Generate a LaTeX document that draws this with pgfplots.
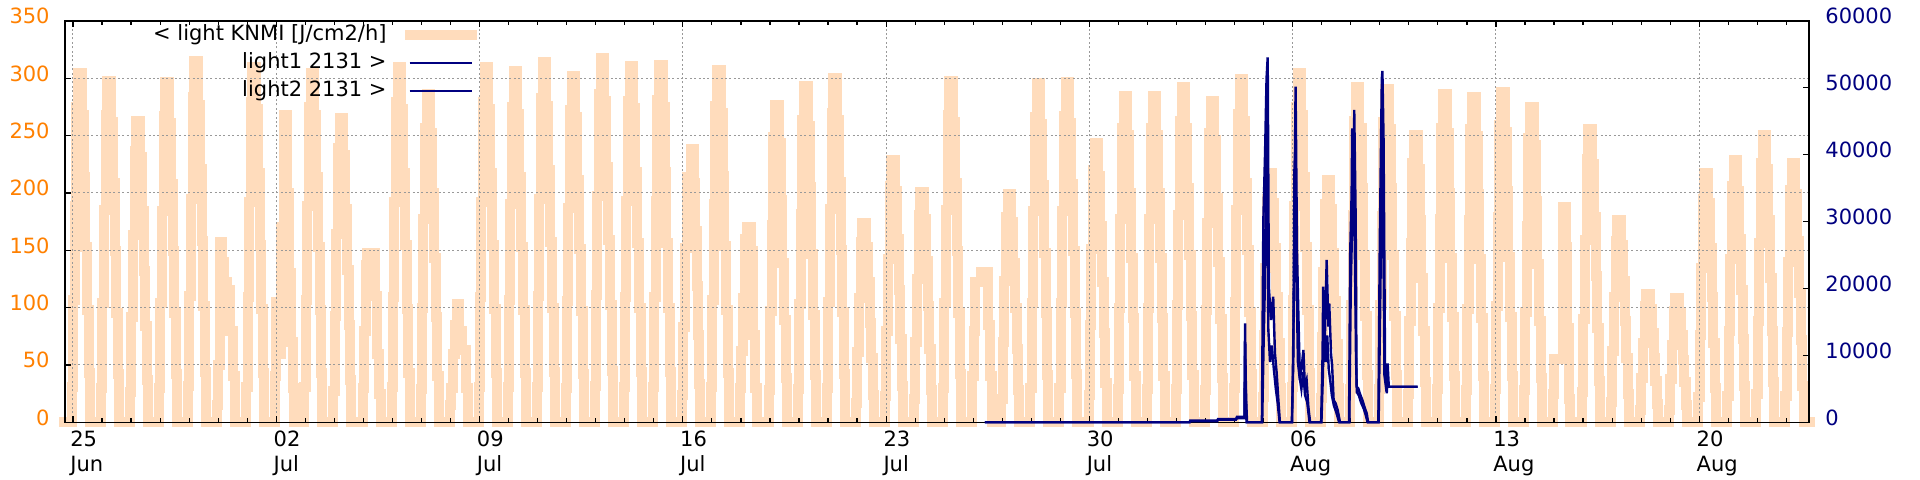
\documentclass[border=0pt]{standalone}
\usepackage{fontspec}
\setmainfont{DejaVu Sans}
\usepackage{pgfplots}
\pgfplotsset{compat=1.18}
\definecolor{peach}{RGB}{255,220,188}
\definecolor{tickorange}{RGB}{255,128,0}
\definecolor{navy}{RGB}{0,0,128}
\newcommand{\chartfont}{\fontsize{10.5}{12.5}\selectfont}
\begin{document}
\begin{tikzpicture}
\begin{axis}[
  name=main,
  width=872pt, height=200.65pt, scale only axis,
  clip=false, axis on top,
  font=\chartfont,
  xmin=-0.275, xmax=59.78, ymin=0, ymax=350,
  xtick={0,7,...,56},
  xticklabels={{25\\Jun},{02\\Jul},{09\\Jul},{16\\Jul},{23\\Jul},{30\\Jul},{06\\Aug},{13\\Aug},{20\\Aug}},
  minor xtick={1,2,...,59},
  ytick={0,50,...,350}, ytick pos=left,
  tick align=inside, major tick length=3pt, minor tick length=2pt,
  xmajorgrids, ymajorgrids,
  major grid style={draw=black!40, dash pattern=on 1pt off 1.2pt, line width=0.5pt},
  axis line style={line width=0.6pt},
  tick style={line width=0.6pt, black},
  /pgf/number format/assume math mode=true,
  yticklabel style={text=tickorange, anchor=east, inner sep=0pt, xshift=-7.5pt, yshift=2.4pt},
  xticklabel style={align=left, anchor=north west, inner sep=0pt, xshift=-1.5pt, yshift=-3.9pt},
]
\addplot[const plot, draw=peach, line width=5pt, line cap=rect, line join=miter] coordinates {
(-0.30,0)
(-0.03,31) (0.01,107) (0.06,189) (0.12,275) (0.18,305) (0.30,268) (0.37,214) (0.43,153) (0.49,98) (0.55,43) (0.59,0)
(0.97,30) (1.01,104) (1.06,185) (1.12,268) (1.18,298) (1.30,262) (1.37,209) (1.43,149) (1.49,95) (1.55,42) (1.59,0)
(1.97,26) (2.01,92) (2.06,163) (2.12,237) (2.18,263) (2.30,231) (2.37,184) (2.43,132) (2.49,84) (2.55,37) (2.59,0)
(2.97,30) (3.01,104) (3.06,184) (3.12,267) (3.18,297) (3.30,261) (3.37,208) (3.43,149) (3.49,95) (3.55,42) (3.59,0)
(3.97,32) (4.01,110) (4.06,195) (4.12,284) (4.18,315) (4.30,277) (4.37,221) (4.43,158) (4.49,101) (4.55,44) (4.59,0)
(4.95,15) (5.00,50) (5.06,157) (5.13,140) (5.20,122) (5.32,115) (5.41,80) (5.50,40) (5.57,0)
(5.97,31) (6.01,109) (6.06,192) (6.12,279) (6.18,310) (6.30,273) (6.37,217) (6.43,155) (6.49,99) (6.55,43) (6.59,0)
(6.95,40) (7.00,105) (7.08,60) (7.15,170) (7.26,268) (7.38,200) (7.45,130) (7.51,70) (7.56,30) (7.60,0)
(7.97,31) (8.01,107) (8.06,189) (8.12,275) (8.18,305) (8.30,268) (8.37,214) (8.43,153) (8.49,98) (8.55,43) (8.59,0)
(8.97,27) (9.01,93) (9.06,164) (9.12,239) (9.18,265) (9.30,233) (9.37,186) (9.43,133) (9.49,85) (9.55,37) (9.59,0)
(9.97,30) (10.01,80) (10.08,137) (10.14,148) (10.40,110) (10.48,60) (10.55,25) (10.59,0)
(10.97,31) (11.01,109) (11.06,192) (11.12,279) (11.18,310) (11.30,273) (11.37,217) (11.43,155) (11.49,99) (11.55,43) (11.59,0)
(11.97,29) (12.01,100) (12.06,177) (12.12,257) (12.18,286) (12.30,252) (12.37,200) (12.43,143) (12.49,92) (12.55,40) (12.59,0)
(12.97,15) (13.01,30) (13.08,60) (13.15,85) (13.21,103) (13.30,80) (13.40,63) (13.55,30) (13.60,0)
(13.97,31) (14.01,109) (14.06,192) (14.12,279) (14.18,310) (14.30,273) (14.37,217) (14.43,155) (14.49,99) (14.55,43) (14.59,0)
(14.97,31) (15.01,107) (15.06,190) (15.12,275) (15.18,306) (15.30,269) (15.37,214) (15.43,153) (15.49,98) (15.55,43) (15.59,0)
(15.97,31) (16.01,110) (16.06,195) (16.12,283) (16.18,314) (16.30,276) (16.37,220) (16.43,157) (16.49,100) (16.55,44) (16.59,0)
(16.97,30) (17.01,106) (17.06,187) (17.12,272) (17.18,302) (17.30,266) (17.37,211) (17.43,151) (17.49,97) (17.55,42) (17.59,0)
(17.97,32) (18.01,111) (18.06,197) (18.12,286) (18.18,318) (18.30,280) (18.37,223) (18.43,159) (18.49,102) (18.55,45) (18.59,0)
(18.97,31) (19.01,109) (19.06,193) (19.12,280) (19.18,311) (19.30,274) (19.37,218) (19.43,156) (19.49,100) (19.55,44) (19.59,0)
(19.97,31) (20.01,109) (20.06,193) (20.12,281) (20.18,312) (20.30,275) (20.37,218) (20.43,156) (20.49,100) (20.55,44) (20.59,0)
(20.97,24) (21.01,83) (21.06,152) (21.14,214) (21.28,238) (21.38,209) (21.43,167) (21.48,119) (21.52,76) (21.56,33) (21.60,0)
(21.97,31) (22.01,107) (22.06,190) (22.12,276) (22.18,307) (22.30,270) (22.37,215) (22.43,154) (22.49,98) (22.55,43) (22.59,0)
(22.97,30) (23.01,62) (23.08,108) (23.15,160) (23.22,170) (23.35,149) (23.41,76) (23.50,30) (23.57,0)
(23.97,28) (24.01,97) (24.06,172) (24.12,249) (24.18,277) (24.30,244) (24.37,194) (24.43,139) (24.49,89) (24.55,39) (24.59,0)
(24.97,29) (25.01,103) (25.06,182) (25.12,264) (25.18,293) (25.30,258) (25.37,205) (25.43,147) (25.49,94) (25.55,41) (25.59,0)
(25.97,30) (26.01,105) (26.06,186) (26.12,270) (26.18,300) (26.30,264) (26.37,210) (26.43,150) (26.49,96) (26.55,42) (26.59,0)
(26.97,17) (27.01,61) (27.06,108) (27.12,157) (27.18,174) (27.30,153) (27.37,122) (27.43,87) (27.49,56) (27.55,24) (27.59,0)
(27.97,23) (28.01,80) (28.06,142) (28.12,206) (28.18,229) (28.30,202) (28.37,160) (28.43,115) (28.49,73) (28.55,32) (28.59,0)
(28.97,20) (29.01,70) (29.06,125) (29.12,181) (29.18,201) (29.30,177) (29.37,141) (29.43,101) (29.49,64) (29.55,28) (29.59,0)
(29.97,30) (30.01,104) (30.06,185) (30.12,268) (30.18,298) (30.30,262) (30.37,209) (30.43,149) (30.49,95) (30.55,42) (30.59,0)
(30.97,40) (31.01,80) (31.06,122) (31.27,131) (31.50,85) (31.58,40) (31.64,0)
(31.97,20) (32.01,70) (32.06,123) (32.12,179) (32.18,199) (32.30,175) (32.37,139) (32.43,100) (32.49,64) (32.55,28) (32.59,0)
(32.97,30) (33.01,104) (33.06,184) (33.12,266) (33.18,296) (33.30,260) (33.37,207) (33.43,148) (33.49,95) (33.55,41) (33.59,0)
(33.97,30) (34.01,104) (34.06,184) (34.12,267) (34.18,297) (34.30,261) (34.37,208) (34.43,149) (34.49,95) (34.55,42) (34.59,0)
(34.97,24) (35.01,85) (35.06,151) (35.12,220) (35.18,244) (35.30,215) (35.37,171) (35.43,122) (35.49,78) (35.55,34) (35.59,0)
(35.97,29) (36.01,100) (36.06,177) (36.12,257) (36.18,285) (36.30,251) (36.37,200) (36.43,143) (36.49,91) (36.55,40) (36.59,0)
(36.97,29) (37.01,100) (37.06,177) (37.12,257) (37.18,285) (37.30,251) (37.37,200) (37.43,143) (37.49,91) (37.55,40) (37.59,0)
(37.97,29) (38.01,102) (38.06,181) (38.12,263) (38.18,292) (38.30,257) (38.37,204) (38.43,146) (38.49,93) (38.55,41) (38.59,0)
(38.97,28) (39.01,98) (39.06,174) (39.12,252) (39.18,280) (39.30,246) (39.37,196) (39.43,140) (39.49,90) (39.55,39) (39.59,0)
(39.97,30) (40.01,105) (40.06,185) (40.12,269) (40.18,299) (40.30,263) (40.37,209) (40.43,150) (40.49,96) (40.55,42) (40.59,0)
(40.97,22) (41.01,76) (41.06,135) (41.12,195) (41.18,217) (41.30,191) (41.37,152) (41.43,109) (41.49,69) (41.55,30) (41.59,0)
(41.97,31) (42.01,107) (42.06,189) (42.12,275) (42.18,305) (42.30,268) (42.37,214) (42.43,153) (42.49,98) (42.55,43) (42.59,0)
(42.97,21) (43.01,74) (43.06,131) (43.12,190) (43.18,211) (43.30,186) (43.37,148) (43.43,106) (43.49,68) (43.55,30) (43.59,0)
(43.97,29) (44.01,102) (44.06,181) (44.12,263) (44.18,292) (44.30,257) (44.37,204) (44.43,146) (44.49,93) (44.55,41) (44.59,0)
(44.97,29) (45.01,102) (45.06,180) (45.12,262) (45.18,291) (45.30,256) (45.37,204) (45.43,146) (45.49,93) (45.55,41) (45.59,0)
(45.97,25) (46.01,88) (46.06,156) (46.12,226) (46.18,251) (46.30,221) (46.37,176) (46.43,126) (46.49,80) (46.55,35) (46.59,0)
(46.97,29) (47.01,100) (47.06,177) (47.12,257) (47.18,286) (47.30,252) (47.37,200) (47.43,143) (47.49,92) (47.55,40) (47.59,0)
(47.97,28) (48.01,99) (48.06,176) (48.12,256) (48.18,284) (48.30,250) (48.37,199) (48.43,142) (48.49,91) (48.55,40) (48.59,0)
(48.97,29) (49.01,101) (49.06,179) (49.12,259) (49.18,288) (49.30,253) (49.37,202) (49.43,144) (49.49,92) (49.55,40) (49.59,0)
(49.97,28) (50.01,96) (50.06,171) (50.12,248) (50.18,275) (50.30,242) (50.37,193) (50.43,138) (50.49,88) (50.55,39) (50.59,0)
(50.95,25) (50.99,55) (51.32,188) (51.41,153) (51.46,82) (51.51,20) (51.56,0)
(51.97,26) (52.01,90) (52.06,159) (52.12,230) (52.18,256) (52.30,225) (52.37,179) (52.43,128) (52.49,82) (52.55,36) (52.59,0)
(52.97,18) (53.01,62) (53.06,109) (53.12,158) (53.18,176) (53.30,155) (53.37,123) (53.43,88) (53.49,56) (53.55,25) (53.59,0)
(53.97,11) (54.01,39) (54.06,69) (54.12,101) (54.18,112) (54.30,99) (54.37,78) (54.43,56) (54.49,36) (54.55,16) (54.59,0)
(54.97,11) (55.01,38) (55.06,67) (55.12,97) (55.18,108) (55.30,95) (55.37,76) (55.43,54) (55.49,35) (55.55,15) (55.59,0)
(55.97,22) (56.01,76) (56.06,135) (56.12,195) (56.18,217) (56.30,191) (56.37,152) (56.43,109) (56.49,69) (56.55,30) (56.59,0)
(56.97,23) (57.01,80) (57.06,142) (57.12,206) (57.18,229) (57.30,202) (57.37,160) (57.43,115) (57.49,73) (57.55,32) (57.59,0)
(57.97,25) (58.01,88) (58.06,156) (58.12,226) (58.18,251) (58.30,221) (58.37,176) (58.43,126) (58.49,80) (58.55,35) (58.59,0)
(58.97,23) (59.01,79) (59.06,140) (59.12,203) (59.18,226) (59.30,199) (59.37,158) (59.43,113) (59.49,72) (59.55,32) (59.59,0)
(59.80,0)
};
\end{axis}
\begin{axis}[
  width=872pt, height=200.65pt, scale only axis,
  clip=false,
  font=\chartfont,
  xmin=-0.275, xmax=59.78, ymin=0, ymax=60000,
  axis x line=none, axis y line*=right,
  ytick={0,10000,...,60000},
  tick align=inside, major tick length=3pt,
  axis line style={line width=0.6pt},
  tick style={line width=0.6pt, black},
  scaled y ticks=false,
  /pgf/number format/1000 sep={},
  /pgf/number format/assume math mode=true,
  yticklabel style={text=navy, anchor=west, inner sep=0pt, xshift=8pt, yshift=2.4pt},
  legend cell align=right, legend plot pos=right,
  legend image code/.code={\draw[#1] (0pt,0pt) -- (31pt,0pt);},
  legend style={draw=none, fill=none, at={(0.2362,0.994)}, anchor=north east,
    inner sep=0pt, row sep=3pt, column sep=8.5pt,
    nodes={inner sep=0.5pt, text height=7.7pt, text depth=2.3pt, font=\chartfont}},
]
\addlegendimage{draw=peach, line width=5pt, line cap=rect}
\addlegendentry{< light KNMI [J/cm2/h]}
\addplot[draw=navy, line width=1.2pt] coordinates {
(31.40,0) (38.45,0) (38.47,150) (39.40,150) (39.43,400) (40.05,400) (40.08,600) (40.34,600) (40.36,14800) (40.38,7400) (40.40,3000) (40.43,0)
(40.94,0) (40.99,30250) (41.05,40460) (41.10,51430) (41.14,54570) (41.18,20280) (41.25,15300) (41.33,18780) (41.39,10300) (41.45,7330) (41.50,3830) (41.56,0)
(41.97,0) (42.02,8800) (42.06,37720) (42.08,40700) (42.10,50180) (42.15,25270) (42.19,17290) (42.25,6320) (42.31,8310) (42.37,10810) (42.42,5320) (42.48,6320) (42.54,2330) (42.60,0)
(42.98,0) (43.03,10300) (43.05,20280) (43.11,12800) (43.17,24270) (43.23,14300) (43.26,17780) (43.32,10300) (43.36,8300) (43.41,3330) (43.48,2830) (43.55,1830) (43.63,0)
(43.94,0) (43.98,25270) (44.03,34240) (44.05,43960) (44.10,33240) (44.12,46700) (44.17,30250) (44.20,5320) (44.26,5070) (44.31,4330) (44.40,3330) (44.47,2330) (44.55,1330) (44.60,0)
(44.95,0) (45.00,27260) (45.03,37720) (45.07,51430) (45.09,52530) (45.13,42210) (45.18,8800) (45.24,4330) (45.27,8800) (45.31,5320) (46.30,5320)
};
\addlegendentry{light1 2131 >}
\addplot[draw=navy, line width=1.2pt] coordinates {
(31.40,0) (38.45,0) (38.47,250) (39.40,250) (39.43,500) (40.05,500) (40.08,800) (40.34,800) (40.36,12000) (40.38,6000) (40.41,0)
(40.95,0) (41.00,12000) (41.04,20000) (41.08,36000) (41.12,45000) (41.16,14000) (41.22,9000) (41.28,11500) (41.35,8000) (41.42,5000) (41.48,3000) (41.55,0)
(41.98,0) (42.03,15000) (42.07,30000) (42.11,36000) (42.14,20000) (42.18,9000) (42.23,7000) (42.30,5000) (42.36,7500) (42.43,4000) (42.50,3000) (42.58,0)
(42.99,0) (43.04,7000) (43.08,16000) (43.14,9000) (43.19,13000) (43.24,8000) (43.30,6000) (43.35,4000) (43.42,2500) (43.50,1500) (43.60,0)
(43.95,0) (44.00,20000) (44.04,28000) (44.08,40000) (44.13,30000) (44.18,10000) (44.21,4500) (44.28,4000) (44.35,3000) (44.45,2000) (44.52,1000) (44.58,0)
(44.96,0) (45.01,16000) (45.05,30000) (45.08,44000) (45.11,35000) (45.16,7000) (45.22,5000) (45.28,5320) (46.30,5320)
};
\addlegendentry{light2 2131 >}
\end{axis}
\path ([xshift=-32.5pt,yshift=-28.85pt]main.south west) rectangle ([xshift=55.5pt,yshift=10.5pt]main.north east);
\end{tikzpicture}
\end{document}
